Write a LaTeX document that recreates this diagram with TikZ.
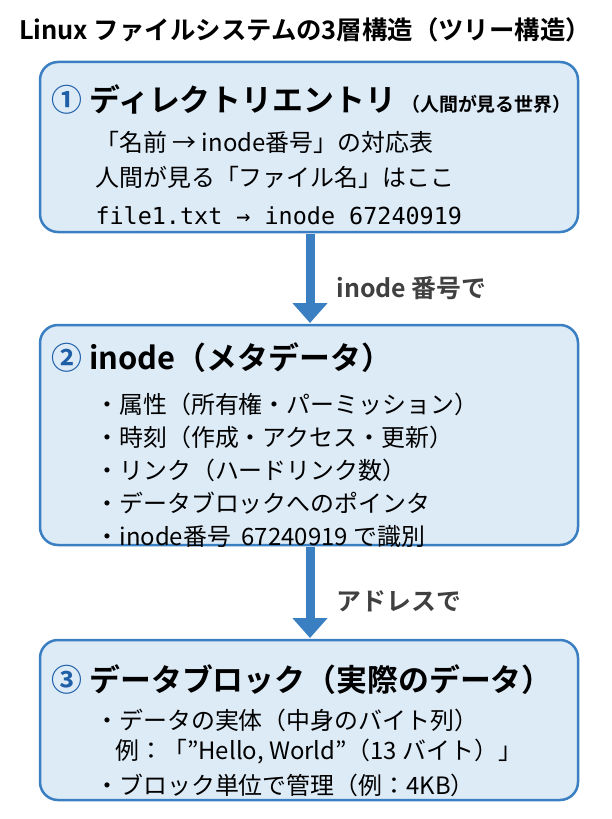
\documentclass[tikz,border=0pt]{standalone}
\usepackage{fontspec}
\setmainfont{Noto Sans CJK JP}[BoldFont={* Bold}]
\newfontfamily\monofont{DejaVu Sans Mono}
\usetikzlibrary{arrows.meta}
\definecolor{boxblue}{HTML}{3A7FC1}
\definecolor{boxfill}{HTML}{DDEBF7}
\definecolor{numblue}{HTML}{1F5FA8}
\begin{document}
\begin{tikzpicture}[x=1bp,y=-1bp,
  layer/.style={draw=boxblue,line width=2.5bp,fill=boxfill,rounded corners=18bp},
  head/.style={anchor=west,font=\fontsize{31}{34}\selectfont\bfseries},
  txt/.style={anchor=west,font=\fontsize{24}{28}\selectfont},
  flow/.style={-{Triangle[length=20bp,width=34bp]},line width=9bp,boxblue},
  flowlabel/.style={anchor=west,text=black!75,font=\fontsize{25}{28}\selectfont\bfseries}]

    \useasboundingbox (0,0) rectangle (612,819);

    % title
    \node[anchor=center,font=\fontsize{25.5}{28}\selectfont\bfseries] (title) at (305,30)
        {Linux ファイルシステムの3層構造（ツリー構造）};

    % layer boxes
    \draw[layer] (40,62) rectangle (578,232);
    \draw[layer] (40,325) rectangle (578,545);
    \draw[layer] (40,640) rectangle (578,800);

    % (1) directory entry
    \node[head] (dirhead) at (48,100) {\textcolor{numblue}{①} ディレクトリエントリ\,{\fontsize{19}{22}\selectfont（人間が見る世界）}};
    \node[txt] (dir1) at (92,142) {「名前 → inode番号」の対応表};
    \node[txt] (dir2) at (92,177) {人間が見る「ファイル名」はここ};
    \node[txt,font=\fontsize{23.5}{28}\monofont] (dir3) at (92,216) {file1.txt → inode 67240919};

    % (2) inode
    \node[head] (inohead) at (48,358) {\textcolor{numblue}{②} inode（メタデータ）};
    \foreach \t [count=\i] in {属性（所有権・パーミッション）,時刻（作成・アクセス・更新）,
        リンク（ハードリンク数）,データブロックへのポインタ,inode番号\ \ 67240919 で識別}
        \node[txt] (ino\i) at (92,{371+33*\i}) {・\t};

    % (3) data block
    \node[head] (blkhead) at (48,680) {\textcolor{numblue}{③} データブロック（実際のデータ）};
    \node[txt] (blk1) at (92,720) {・データの実体（中身のバイト列）};
    \node[txt] (blk2) at (112,752) {例：「\symbol{34}Hello, World\symbol{34}（13 バイト）」};
    \node[txt] (blk3) at (92,785) {・ブロック単位で管理（例：4KB）};

    % arrows between layers
    \coordinate (a1) at (310,234);
    \coordinate (a2) at (310,323);
    \coordinate (b1) at (310,547);
    \coordinate (b2) at (310,638);
    \draw[flow] (a1) -- (a2);
    \draw[flow] (b1) -- (b2);
    \node[flowlabel] (lab1) at (333,288) {inode 番号で};
    \node[flowlabel] (lab2) at (333,601) {アドレスで};

\end{tikzpicture}
\end{document}
